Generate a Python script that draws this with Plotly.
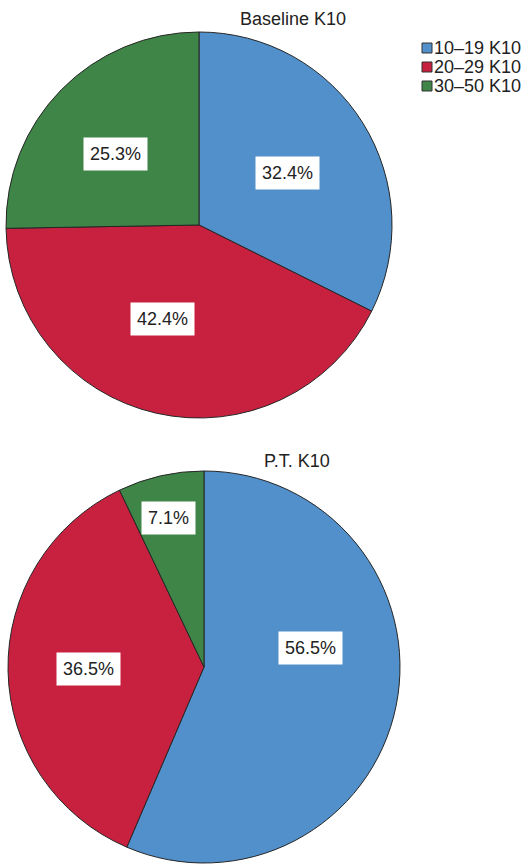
import math
import plotly.graph_objects as go

# K10 distress categories and their shares (%) at baseline and post-treatment
categories = ["10–19 K10", "20–29 K10", "30–50 K10"]
baseline_pct = [32.4, 42.4, 25.3]
pt_pct = [56.5, 36.5, 7.1]
titles = ["Baseline K10", "P.T. K10"]

colors = ["#5290cb", "#c8213f", "#3f8547"]
W, H = 523, 864

# pie geometry in pixels: (centre x, centre y, radius)
pies = [(199, 225, 193), (204, 667, 196)]
# label placement per slice: (angle nudge in degrees, radius fraction)
label_style = [
    [(1.5, 0.53), (8.5, 0.52), (-4.0, 0.57)],
    [(-22.0, 0.55), (0.0, 0.59), (-0.5, 0.78)],
]

fig = go.Figure()
annotations = []
FONT = "Liberation Sans, Arial, Helvetica, sans-serif"

for k, (vals, (cx, cy, r)) in enumerate(zip([baseline_pct, pt_pct], pies)):
    fig.add_trace(go.Pie(
        labels=categories, values=vals, sort=False, direction="clockwise",
        rotation=0, textinfo="none", hoverinfo="skip", showlegend=False,
        marker=dict(colors=colors, line=dict(color="#262626", width=1)),
        domain=dict(x=[(cx - r) / W, (cx + r) / W],
                    y=[1 - (cy + r) / H, 1 - (cy - r) / H]),
    ))
    total = sum(vals)
    start = 0.0
    for i, v in enumerate(vals):
        span = 360.0 * v / total
        nudge, frac = label_style[k][i]
        ang = math.radians(start + span / 2 + nudge)
        px = cx + r * frac * math.sin(ang)
        py = cy - r * frac * math.cos(ang)
        annotations.append(dict(
            x=px / W, y=1 - py / H, xref="paper", yref="paper",
            text=f"{v:.1f}%", showarrow=False, bgcolor="white", borderpad=6,
            font=dict(family=FONT, size=18, color="#222222"),
            xanchor="center", yanchor="middle",
        ))
        start += span

# chart titles
for t, (tx, ty) in zip(titles, [(293, 19), (297, 461)]):
    annotations.append(dict(
        x=tx / W, y=1 - ty / H, xref="paper", yref="paper", text=t,
        showarrow=False, font=dict(family=FONT, size=18, color="#222222"),
        xanchor="center", yanchor="middle",
    ))

# legend: small bordered squares with category names
shapes = []
for i, (c, lab) in enumerate(zip(colors, categories)):
    ly = 48 + 19 * i
    shapes.append(dict(
        type="rect", xref="paper", yref="paper",
        x0=422 / W, x1=432 / W, y0=1 - (ly + 5) / H, y1=1 - (ly - 5) / H,
        fillcolor=c, line=dict(color="#333333", width=1),
    ))
    annotations.append(dict(
        x=432 / W, y=1 - ly / H, xref="paper", yref="paper", text=lab,
        showarrow=False, font=dict(family=FONT, size=18, color="#222222"),
        xanchor="left", yanchor="middle",
    ))

fig.update_layout(
    width=W, height=H, margin=dict(l=0, r=0, t=0, b=0),
    paper_bgcolor="white", plot_bgcolor="white",
    annotations=annotations, shapes=shapes,
)

fig.write_html("out.html")
